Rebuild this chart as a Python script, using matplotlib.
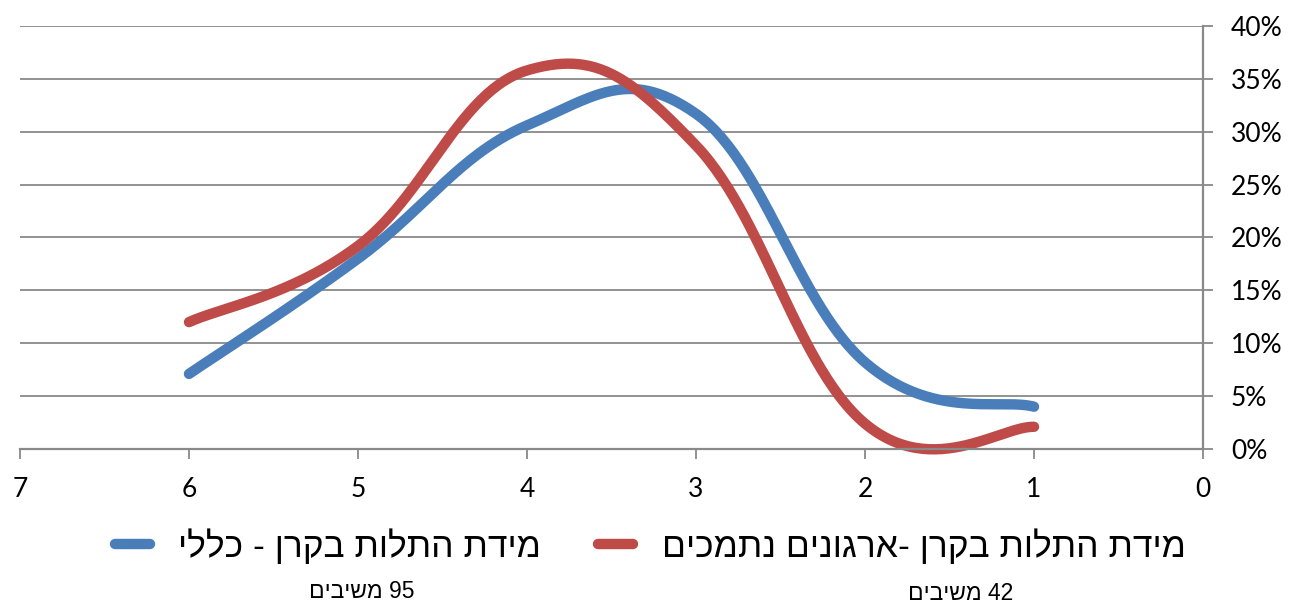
import numpy as np
import matplotlib
matplotlib.use("Agg")
import matplotlib.pyplot as plt

# values (share of respondents per level)
levels = [6, 5, 4, 3, 2, 1]
general = [7.1, 18.0, 30.6, 31.7, 8.2, 4.0]      # 95 respondents
supported = [12.0, 19.2, 35.8, 28.7, 2.4, 2.1]   # 42 respondents

label_general = "מידת התלות בקרן - כללי"
label_supported = "מידת התלות בקרן -ארגונים נתמכים"
note_general = "95 משיבים"
note_supported = "42 משיבים"

xticks = [7, 6, 5, 4, 3, 2, 1, 0]
yticks = [0, 5, 10, 15, 20, 25, 30, 35, 40]

BLUE = "#4A7EBB"
RED = "#BE4B48"
GRAY = "#898989"
HEB = ["Liberation Sans", "DejaVu Sans"]


def visual(s):
    # matplotlib has no bidi: flip to visual order, keep digit runs LTR
    r = s[::-1]
    out, run = "", ""
    for ch in r:
        if ch.isdigit():
            run += ch
        else:
            out += run[::-1] + ch
            run = ""
    return out + run[::-1]


def smooth(x, y, n=60, k=5.0):
    # excel-like smoothed line: cubic bezier through the points
    x = np.asarray(x, float)
    y = np.asarray(y, float)
    px, py = [], []
    for i in range(len(x) - 1):
        a = max(i - 1, 0)
        b = min(i + 2, len(x) - 1)
        c1x = x[i] + (x[i + 1] - x[a]) / k
        c1y = y[i] + (y[i + 1] - y[a]) / k
        c2x = x[i + 1] - (x[b] - x[i]) / k
        c2y = y[i + 1] - (y[b] - y[i]) / k
        t = np.linspace(0, 1, n)
        px.append((1-t)**3*x[i] + 3*(1-t)**2*t*c1x + 3*(1-t)*t**2*c2x + t**3*x[i+1])
        py.append((1-t)**3*y[i] + 3*(1-t)**2*t*c1y + 3*(1-t)*t**2*c2y + t**3*y[i+1])
    return np.concatenate(px), np.concatenate(py)


fig = plt.figure(figsize=(12.9, 6.04), dpi=100)
ax = fig.add_axes([20/1290, 1 - 449/604, 1183/1290, 423/604])

for vals, col, lab in [(general, BLUE, label_general), (supported, RED, label_supported)]:
    sx, sy = smooth(levels, vals)
    ax.plot(sx, sy, color=col, lw=7.5, solid_capstyle="round", label=visual(lab), clip_on=False)

ax.set_xlim(7, 0)
ax.set_ylim(0, 40)
ax.set_xticks(xticks)
ax.set_yticks(yticks)
ax.set_yticklabels([f"{v}%" for v in yticks])
ax.yaxis.tick_right()
ax.grid(axis="y", color=GRAY, lw=1.3)
ax.set_axisbelow(True)
for s in ["left", "top"]:
    ax.spines[s].set_visible(False)
for s in ["right", "bottom"]:
    ax.spines[s].set_color(GRAY)
    ax.spines[s].set_linewidth(1.6)
ax.tick_params(axis="both", colors=GRAY, length=7, width=1.3, labelcolor="black", labelsize=19)
ax.tick_params(axis="y", pad=13)
ax.tick_params(axis="x", pad=13)
for lbl in ax.get_xticklabels() + ax.get_yticklabels():
    lbl.set_family("Lato")

leg = ax.legend(loc="center", bbox_to_anchor=(650/1290, 1 - 546/604), bbox_transform=fig.transFigure,
                ncol=2, frameon=False, handlelength=1.0, handletextpad=0.8, columnspacing=1.6,
                prop={"family": HEB, "size": 25.5})

fig.text(362/1290, 1 - 592/604, visual(note_general), ha="center", va="center", family=HEB, fontsize=16.5)
fig.text(961/1290, 1 - 594/604, visual(note_supported), ha="center", va="center", family=HEB, fontsize=16.5)

fig.savefig("out.png", dpi=100)
